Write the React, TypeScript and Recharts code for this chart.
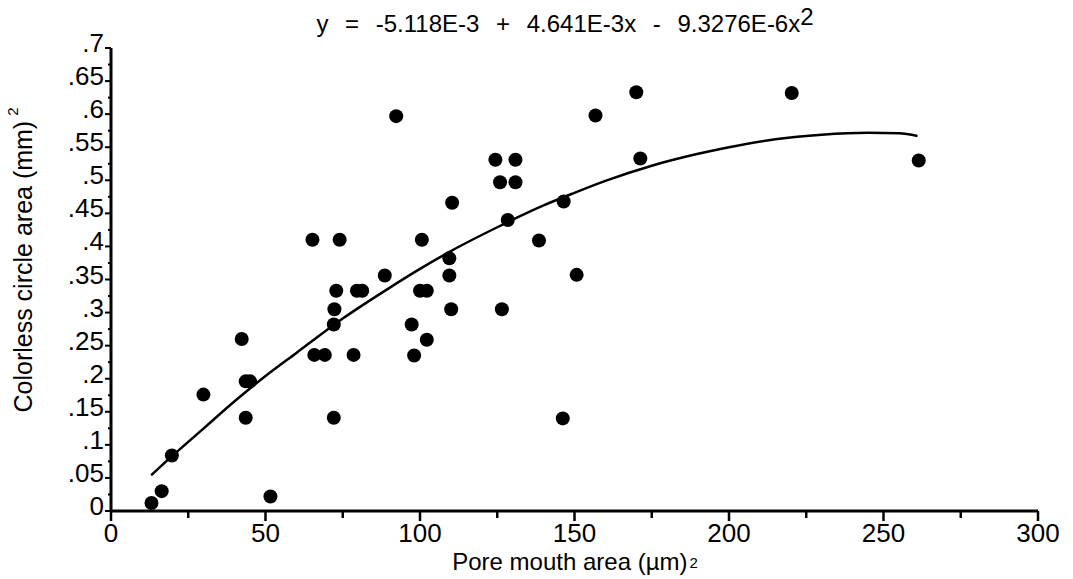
import React from 'react';
import { ComposedChart, Scatter, Line, XAxis, YAxis } from 'recharts';

// measured points (pore mouth area vs colorless circle area)
const pointX = [
  13.1, 16.4, 19.7, 29.9, 42.3, 43.6, 45.0, 43.6, 51.6, 65.2, 65.8, 69.2, 72.9, 72.3, 72.1, 72.1,
  74.0, 78.5, 79.6, 81.3, 88.6, 92.3, 97.3, 98.1, 100.0, 100.6, 102.2, 102.2, 109.5, 109.5, 110.1,
  110.4, 124.4, 125.9, 126.5, 128.4, 130.9, 130.9, 138.5, 146.5, 146.2, 150.7, 156.8, 170.0, 171.3,
  220.3, 261.4,
];
const pointY = [
  0.012, 0.03, 0.084, 0.176, 0.26, 0.196, 0.196, 0.141, 0.022, 0.41, 0.236, 0.236, 0.333, 0.305, 0.282, 0.141,
  0.41, 0.236, 0.333, 0.333, 0.356, 0.597, 0.282, 0.235, 0.333, 0.41, 0.333, 0.259, 0.382, 0.356, 0.305,
  0.466, 0.531, 0.497, 0.305, 0.44, 0.531, 0.497, 0.409, 0.468, 0.14, 0.357, 0.598, 0.633, 0.533,
  0.632, 0.53,
];

// fitted curve
const fitX = [13, 20, 30, 40, 50, 60, 75, 90, 100, 110, 125, 140, 150, 160, 175, 190, 200, 215, 230, 245, 255, 261];
const fitY = [
  0.054, 0.084, 0.125, 0.166, 0.204, 0.239, 0.291, 0.337, 0.366, 0.393, 0.429, 0.462, 0.481, 0.499, 0.522,
  0.54, 0.55, 0.562, 0.569, 0.572, 0.571, 0.567,
];

const xMajor = [0, 50, 100, 150, 200, 250, 300];
const xLabels = ['0', '50', '100', '150', '200', '250', '300'];
const xMinor = [25, 75, 125, 175, 225, 275];
const yMajor = [0, 0.05, 0.1, 0.15, 0.2, 0.25, 0.3, 0.35, 0.4, 0.45, 0.5, 0.55, 0.6, 0.65, 0.7];
const yLabels = ['0', '.05', '.1', '.15', '.2', '.25', '.3', '.35', '.4', '.45', '.5', '.55', '.6', '.65', '.7'];
const yMinor = [0.025, 0.075, 0.125, 0.175, 0.225, 0.275, 0.325, 0.375, 0.425, 0.475, 0.525, 0.575, 0.625, 0.675];

const title = 'y = -5.118E-3 + 4.641E-3x - 9.3276E-6x';
const xTitle = 'Pore mouth area (µm)';
const yTitle = 'Colorless circle area (mm)';

const points = pointX.map((x, i) => ({ x, y: pointY[i] }));
const fit = fitX.map((x, i) => ({ x, y: fitY[i] }));

const FONT = '"Liberation Sans", Arial, Helvetica, sans-serif';

function XTick(props: any) {
  const { x, y, payload } = props;
  const i = xMajor.indexOf(payload.value);
  const major = i >= 0;
  return (
    <g>
      <line x1={x} x2={x} y1={y} y2={y + (major ? 10 : 7)} stroke="#000" strokeWidth={2.5} />
      {major && (
        <text x={x} y={y + 31} textAnchor="middle" fontSize={26} fill="#000" fontFamily={FONT}>
          {xLabels[i]}
        </text>
      )}
    </g>
  );
}

function YTick(props: any) {
  const { x, y, payload } = props;
  const i = yMajor.findIndex((v) => Math.abs(v - payload.value) < 1e-9);
  const major = i >= 0;
  return (
    <g>
      <line x1={x - (major ? 6 : 3)} x2={x} y1={y} y2={y} stroke="#000" strokeWidth={2} />
      {major && (
        <text x={x - 7} y={y + 4} textAnchor="end" fontSize={26} fill="#000" fontFamily={FONT}>
          {yLabels[i]}
        </text>
      )}
    </g>
  );
}

function Dot(props: any) {
  return <circle cx={props.cx} cy={props.cy} r={7} fill="#000" />;
}

export default function App() {
  return (
    <div style={{ position: 'absolute', left: 0, top: 0, width: 1073, height: 579, background: '#fff', fontFamily: FONT }}>
      <ComposedChart width={1073} height={579} margin={{ top: 48, right: 35, bottom: 0, left: 0 }}>
        <XAxis
          dataKey="x"
          type="number"
          domain={[0, 300]}
          ticks={[...xMajor, ...xMinor].sort((a, b) => a - b)}
          interval={0}
          height={68}
          tickSize={0}
          tickMargin={0}
          tickLine={false}
          axisLine={{ stroke: '#000', strokeWidth: 3 }}
          tick={<XTick />}
        />
        <YAxis
          dataKey="y"
          type="number"
          domain={[0, 0.7]}
          ticks={[...yMajor, ...yMinor].sort((a, b) => a - b)}
          interval={0}
          width={111}
          tickSize={0}
          tickMargin={0}
          tickLine={false}
          axisLine={{ stroke: '#000', strokeWidth: 3 }}
          tick={<YTick />}
        />
        <Line
          data={fit}
          dataKey="y"
          type="monotone"
          stroke="#000"
          strokeWidth={2.5}
          dot={false}
          activeDot={false}
          isAnimationActive={false}
        />
        <Scatter data={points} dataKey="y" fill="#000" shape={<Dot />} isAnimationActive={false} />
      </ComposedChart>
      <svg width={1073} height={579} style={{ position: 'absolute', left: 0, top: 0, pointerEvents: 'none' }}>
        <text x={565} y={32} textAnchor="middle" fontSize={24} wordSpacing={10} fill="#000" fontFamily={FONT}>
          {title}
          <tspan dy={-7} fontSize={24}>2</tspan>
        </text>
        <text x={575} y={570} textAnchor="middle" fontSize={24} fill="#000" fontFamily={FONT}>
          {xTitle}
          <tspan dx={2} dy={-2} fontSize={15}>2</tspan>
        </text>
        <text
          transform="translate(32,260) rotate(-90)"
          x={0}
          y={0}
          textAnchor="middle"
          fontSize={25}
          fill="#000"
          fontFamily={FONT}
        >
          {yTitle}
          <tspan dx={5} dy={-14} fontSize={15}>2</tspan>
        </text>
      </svg>
    </div>
  );
}
